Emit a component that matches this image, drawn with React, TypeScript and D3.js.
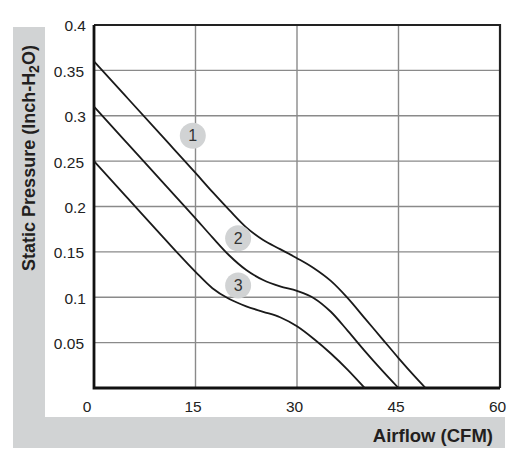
import React, { useRef, useEffect } from 'react';
import * as d3 from 'd3';

// Airflow (CFM) / static pressure readings, one pair of arrays per curve
const airflow1 = [0, 5, 10, 15, 17.5, 20, 22.5, 25, 27.5, 30, 32.5, 35, 37.5, 40, 42.5, 45, 47.5, 49];
const pressure1 = [0.36, 0.319, 0.278, 0.237, 0.216, 0.196, 0.177, 0.163, 0.153, 0.143, 0.132, 0.118, 0.099, 0.077, 0.055, 0.033, 0.012, 0];

const airflow2 = [0, 5, 10, 15, 17.5, 20, 22.5, 25, 27.5, 30, 32.5, 35, 37.5, 40, 42.5, 45];
const pressure2 = [0.31, 0.269, 0.228, 0.187, 0.166, 0.146, 0.13, 0.119, 0.112, 0.107, 0.099, 0.084, 0.063, 0.041, 0.02, 0];

const airflow3 = [0, 5, 10, 15, 17.5, 20, 22.5, 25, 27.5, 30, 32.5, 35, 37.5, 40];
const pressure3 = [0.25, 0.209, 0.168, 0.128, 0.11, 0.098, 0.09, 0.084, 0.078, 0.068, 0.054, 0.038, 0.02, 0];

// Curve number badges
const badgeLabels = ['1', '2', '3'];
const badgeX = [14.6, 21.3, 21.3];
const badgeY = [0.278, 0.165, 0.113];

const xTicks = [0, 15, 30, 45, 60];
const yTicks = [0.05, 0.1, 0.15, 0.2, 0.25, 0.3, 0.35, 0.4];

const App = () => {
  const svgRef = useRef<SVGSVGElement>(null);

  const width = 514;
  const height = 460;
  const plot = { left: 94, right: 500, top: 25, bottom: 388 };
  const font = 'Liberation Sans, Arial, sans-serif';

  useEffect(() => {
    document.body.style.margin = '0';

    const svg = d3.select(svgRef.current);
    svg.selectAll('*').remove();

    const gray = '#d1d3d4';

    // L-shaped gray band behind the axis titles
    svg.append('rect').attr('x', 13).attr('y', 27).attr('width', 32).attr('height', 421).attr('fill', gray);
    svg.append('rect').attr('x', 13).attr('y', 417).attr('width', 492).attr('height', 31).attr('fill', gray);

    const xScale = d3.scaleLinear().domain([0, 60]).range([plot.left, plot.right]);
    const yScale = d3.scaleLinear().domain([0, 0.4]).range([plot.bottom, plot.top]);

    // Grid lines
    svg
      .append('g')
      .selectAll('line')
      .data(xTicks.slice(1, -1))
      .join('line')
      .attr('x1', (d) => xScale(d))
      .attr('x2', (d) => xScale(d))
      .attr('y1', plot.top)
      .attr('y2', plot.bottom)
      .attr('stroke', '#8a8a8a')
      .attr('stroke-width', 1.4);

    svg
      .append('g')
      .selectAll('line')
      .data(yTicks.slice(0, -1))
      .join('line')
      .attr('x1', plot.left)
      .attr('x2', plot.right)
      .attr('y1', (d) => yScale(d))
      .attr('y2', (d) => yScale(d))
      .attr('stroke', '#8a8a8a')
      .attr('stroke-width', 1.4);

    // Frame: top/right a bit lighter than the axes
    svg
      .append('path')
      .attr('d', `M${plot.left},${plot.top}H${plot.right}V${plot.bottom}`)
      .attr('fill', 'none')
      .attr('stroke', '#222')
      .attr('stroke-width', 2.2);
    svg
      .append('path')
      .attr('d', `M${plot.left},${plot.top}V${plot.bottom}H${plot.right}`)
      .attr('fill', 'none')
      .attr('stroke', '#111')
      .attr('stroke-width', 2.8);

    // Tick labels
    svg
      .append('g')
      .selectAll('text')
      .data(yTicks)
      .join('text')
      .attr('x', (d) => (String(d).length > 3 ? 84 : 86))
      .attr('y', (d) => yScale(d) + 1)
      .attr('dy', '0.35em')
      .attr('text-anchor', 'end')
      .style('font-family', font)
      .style('font-size', '15.5px')
      .attr('fill', '#222')
      .text((d) => String(d));

    svg
      .append('g')
      .selectAll('text')
      .data(xTicks)
      .join('text')
      .attr('x', (d) => xScale(d) - (d === 0 ? 7 : 2.5))
      .attr('y', 407)
      .attr('dy', '0.35em')
      .attr('text-anchor', 'middle')
      .style('font-family', font)
      .style('font-size', '15.5px')
      .attr('fill', '#222')
      .text((d) => String(d));

    // Curves
    const line = d3
      .line<[number, number]>()
      .x((d) => xScale(d[0]))
      .y((d) => yScale(d[1]))
      .curve(d3.curveMonotoneX);

    const curves: [number[], number[]][] = [
      [airflow1, pressure1],
      [airflow2, pressure2],
      [airflow3, pressure3],
    ];
    curves.forEach(([xs, ys]) => {
      svg
        .append('path')
        .datum(xs.map((x, i) => [x, ys[i]] as [number, number]))
        .attr('fill', 'none')
        .attr('stroke', '#1a1a1a')
        .attr('stroke-width', 1.8)
        .attr('d', line);
    });

    // Badges
    const badges = svg
      .append('g')
      .selectAll('g')
      .data(badgeLabels)
      .join('g')
      .attr('transform', (d, i) => `translate(${xScale(badgeX[i])},${yScale(badgeY[i])})`);
    badges.append('circle').attr('r', 13).attr('fill', gray);
    badges
      .append('text')
      .attr('dy', '0.36em')
      .attr('text-anchor', 'middle')
      .style('font-family', font)
      .style('font-size', '16px')
      .attr('fill', '#333')
      .text((d) => d);

    // Axis titles
    const yTitle = svg
      .append('text')
      .attr('transform', 'translate(35,158) rotate(-90)')
      .attr('text-anchor', 'middle')
      .style('font-family', font)
      .style('font-size', '18px')
      .style('font-weight', 'bold')
      .attr('fill', '#231f20');
    yTitle.append('tspan').text('Static Pressure (Inch-H');
    yTitle.append('tspan').attr('dy', 4).style('font-size', '14px').text('2');
    yTitle.append('tspan').attr('dy', -4).text('O)');

    svg
      .append('text')
      .attr('x', 493)
      .attr('y', 442)
      .attr('text-anchor', 'end')
      .style('font-family', font)
      .style('font-size', '18.5px')
      .style('font-weight', 'bold')
      .attr('fill', '#231f20')
      .text('Airflow (CFM)');
  }, []);

  return <svg ref={svgRef} width={width} height={height} style={{ display: 'block', background: '#fff' }} />;
};

export default App;
